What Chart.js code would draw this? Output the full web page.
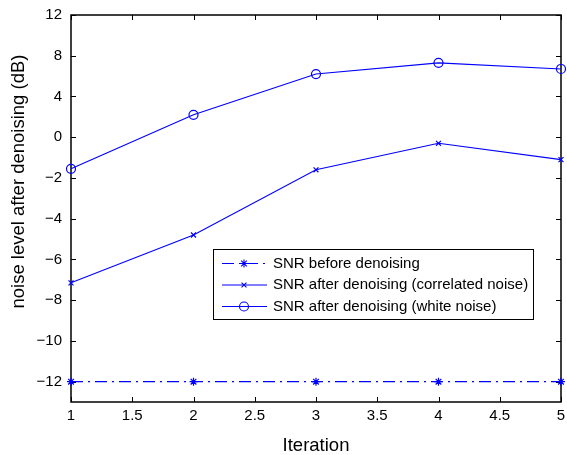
<!DOCTYPE html>
<html>
<head>
<meta charset="utf-8">
<script src="https://cdn.jsdelivr.net/npm/chart.js@4/dist/chart.umd.min.js"></script>
<style>
  html, body { margin: 0; padding: 0; background: #fff; }
  #wrap { width: 567px; height: 455px; }
</style>
</head>
<body>
<div id="wrap"><canvas id="snr-chart"></canvas></div>
<script>
// SNR per denoising iteration, three series on a shared axis.
const iterations = [1, 2, 3, 4, 5];
const snrBefore = [-12, -12, -12, -12, -12];
const snrCorrelated = [-7.15, -4.8, -1.6, -0.3, -1.1];
const snrWhite = [-1.55, 2.2, 6.2, 7.3, 6.7];
const seriesLabels = [
  'SNR before denoising',
  'SNR after denoising (correlated noise)',
  'SNR after denoising (white noise)',
];
// The y ticks are evenly spaced but their values are not, so the axis
// runs on tick index and values are interpolated between neighbours.
const yTickValues = [-12, -10, -8, -6, -4, -2, 0, 4, 8, 12];
const xTitle = 'Iteration';
const yTitle = 'noise level after denoising (dB)';

const BLUE = '#0000ff';
const FONT = "'Liberation Sans', Arial, Helvetica, sans-serif";

function toAxis(v) {
  for (let i = 0; i < yTickValues.length - 1; i++) {
    const a = yTickValues[i], b = yTickValues[i + 1];
    if (v >= a && v <= b) return i + (v - a) / (b - a);
  }
  return v < yTickValues[0] ? 0 : yTickValues.length - 1;
}

function fmtNum(v) {
  return String(v).replace('-', '\u2212');
}

const styles = [
  { pointStyle: 'star', radius: 4, dash: [12, 5, 2, 5] },
  { pointStyle: 'crossRot', radius: 3.5, dash: [] },
  { pointStyle: 'circle', radius: 4.5, dash: [] },
];

function makeDataset(idx, values) {
  const st = styles[idx];
  return {
    label: seriesLabels[idx],
    data: iterations.map((x, i) => ({ x, y: toAxis(values[i]) })),
    borderColor: BLUE,
    borderWidth: 1.1,
    borderDash: st.dash,
    pointStyle: st.pointStyle,
    pointRadius: st.radius,
    pointHoverRadius: st.radius,
    pointBorderColor: BLUE,
    pointBackgroundColor: 'rgba(0,0,0,0)',
    pointBorderWidth: 1.2,
    fill: false,
    tension: 0,
    clip: false,
  };
}

// Box, inward ticks on all four sides, rotated y title.
const framePlugin = {
  id: 'frame',
  beforeDatasetsDraw(chart) {
    const { ctx, chartArea: a, scales } = chart;
    const tl = 5;
    ctx.save();
    ctx.strokeStyle = '#000';
    ctx.lineWidth = 1;
    ctx.beginPath();
    scales.x.ticks.forEach((t) => {
      const px = Math.round(scales.x.getPixelForValue(t.value)) + 0.5;
      ctx.moveTo(px, a.bottom); ctx.lineTo(px, a.bottom - tl);
      ctx.moveTo(px, a.top); ctx.lineTo(px, a.top + tl);
    });
    scales.y.ticks.forEach((t) => {
      const py = Math.round(scales.y.getPixelForValue(t.value)) + 0.5;
      ctx.moveTo(a.left, py); ctx.lineTo(a.left + tl, py);
      ctx.moveTo(a.right, py); ctx.lineTo(a.right - tl, py);
    });
    ctx.stroke();
    ctx.lineWidth = 1.5;
    ctx.strokeRect(a.left, a.top, a.right - a.left, a.bottom - a.top);

    ctx.fillStyle = '#000';
    ctx.font = `18.5px ${FONT}`;
    ctx.textAlign = 'center';
    ctx.textBaseline = 'middle';
    ctx.translate(19, 181.5);
    ctx.rotate(-Math.PI / 2);
    ctx.fillText(yTitle, 0, 0);
    ctx.restore();
  },
  afterDatasetsDraw(chart) {
    const { ctx } = chart;
    const box = { x: 213, y: 249, w: 320, h: 70 };
    const rowY = [263, 284.5, 306];
    ctx.save();
    ctx.fillStyle = '#fff';
    ctx.fillRect(box.x, box.y, box.w, box.h);
    ctx.strokeStyle = '#000';
    ctx.lineWidth = 1;
    ctx.strokeRect(box.x + 0.5, box.y + 0.5, box.w, box.h);
    ctx.font = `15px ${FONT}`;
    ctx.textBaseline = 'middle';
    chart.data.datasets.forEach((ds, i) => {
      const y = rowY[i];
      ctx.strokeStyle = BLUE;
      ctx.lineWidth = 1.1;
      ctx.setLineDash(ds.borderDash);
      ctx.beginPath();
      ctx.moveTo(222, y + 0.5);
      ctx.lineTo(267, y + 0.5);
      ctx.stroke();
      ctx.setLineDash([]);
      ctx.fillStyle = 'rgba(0,0,0,0)';
      Chart.helpers.drawPoint(ctx, {
        pointStyle: ds.pointStyle, radius: ds.pointRadius,
        borderWidth: 1.2, rotation: 0,
      }, 244, y + 0.5);
      ctx.fillStyle = '#000';
      ctx.fillText(ds.label, 273, y + 0.5);
    });
    ctx.restore();
  },
};

Chart.defaults.font.family = FONT;
Chart.defaults.color = '#000';

new Chart(document.getElementById('snr-chart'), {
  type: 'line',
  data: {
    datasets: [
      makeDataset(0, snrBefore),
      makeDataset(1, snrCorrelated),
      makeDataset(2, snrWhite),
    ],
  },
  options: {
    responsive: true,
    maintainAspectRatio: false,
    animation: false,
    events: [],
    layout: { padding: { left: 0, right: 6, top: 15, bottom: 0 } },
    plugins: { legend: { display: false }, tooltip: { enabled: false } },
    scales: {
      x: {
        type: 'linear',
        min: 1,
        max: 5,
        grid: { display: false, drawTicks: false },
        border: { display: false },
        ticks: {
          stepSize: 0.5,
          padding: 5,
          font: { size: 15 },
          maxRotation: 0,
          callback: (v) => fmtNum(v),
        },
        title: {
          display: true,
          text: xTitle,
          font: { size: 18.5, lineHeight: 1 },
          padding: { top: 0, bottom: 0 },
        },
        afterFit: (s) => {
          s.height = 53;
          s.paddingLeft = 0;
          s.paddingRight = 0;
        },
      },
      y: {
        type: 'linear',
        min: -0.5,
        max: yTickValues.length - 1,
        grid: { display: false, drawTicks: false },
        border: { display: false },
        afterBuildTicks: (s) => {
          s.ticks = yTickValues.map((_, i) => ({ value: i }));
        },
        ticks: {
          padding: 9,
          font: { size: 15 },
          autoSkip: false,
          callback: (v, i) => fmtNum(yTickValues[i]),
        },
        afterFit: (s) => {
          s.width = 71;
          s.paddingTop = 0;
          s.paddingBottom = 0;
        },
      },
    },
  },
  plugins: [framePlugin],
});
</script>
</body>
</html>
